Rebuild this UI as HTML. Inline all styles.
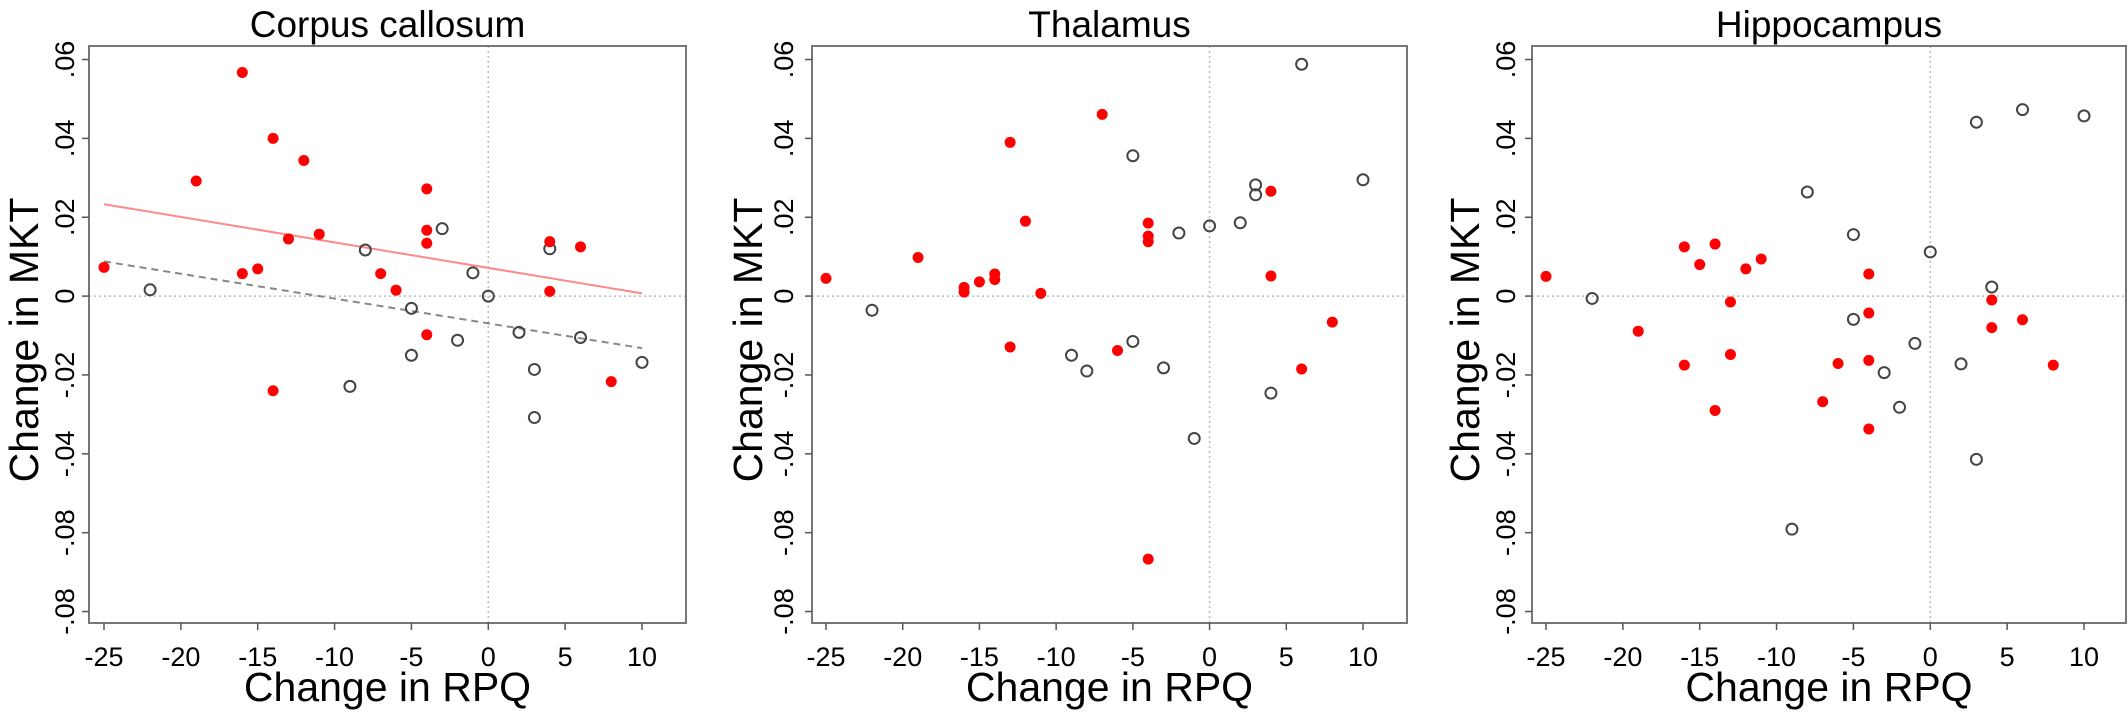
<!DOCTYPE html>
<html><head><meta charset="utf-8"><style>
html,body{margin:0;padding:0;background:#fff;}
svg{display:block;font-family:"Liberation Sans",Arial,sans-serif;}
</style></head><body>
<svg id="chart" width="2128" height="724" viewBox="0 0 2128 724"></svg>
<script>
const xTicks=[-25,-20,-15,-10,-5,0,5,10];
const yTicks=[0.06,0.04,0.02,0,-0.02,-0.04,-0.06,-0.08];
const yTickLabels=[".06",".04",".02","0","-.02","-.04","-.08","-.08"];
const titles=["Corpus callosum","Thalamus","Hippocampus"];
const ccRedX=[-25,-16,-14,-12,-19,-4,-4,-4,-13,-11,-16,-15,-7,-6,-4,-14,4,6,4,8];
const ccRedY=[.0073,.0567,.040,.0344,.0292,.0272,.0167,.0134,.0145,.0157,.0057,.0069,.0057,.0015,-.0098,-.024,.0138,.0125,.0012,-.0217];
const ccOpenX=[-22,-8,-3,-1,0,-5,-5,-2,-9,2,3,3,4,6,10];
const ccOpenY=[.0016,.0117,.0171,.0059,0,-.0031,-.015,-.0112,-.0229,-.0092,-.0186,-.0308,.012,-.0105,-.0168];
const thRedX=[-25,-19,-16,-16,-15,-14,-14,-13,-13,-12,-11,-7,-6,-4,-4,-4,-4,4,4,6,8];
const thRedY=[.0045,.0098,.0022,.001,.0036,.0056,.0042,.039,-.0129,.019,.0007,.0461,-.0138,.0185,.0152,.0138,-.0667,.0266,.0051,-.0185,-.0066];
const thOpenX=[-22,-9,-8,-5,-5,-3,-2,-1,0,2,3,3,4,6,10];
const thOpenY=[-.0036,-.015,-.019,.0356,-.0115,-.0182,.016,-.0361,.0178,.0186,.0282,.0257,-.0246,.0588,.0295];
const hiRedX=[-25,-19,-16,-16,-15,-14,-14,-13,-13,-12,-11,-7,-6,-4,-4,-4,-4,4,4,6,8];
const hiRedY=[.005,-.0089,.0125,-.0175,.008,.0132,-.029,-.0015,-.0148,.0069,.0094,-.0268,-.0171,.0056,-.0043,-.0163,-.0337,-.001,-.008,-.006,-.0175];
const hiOpenX=[-22,-8,-9,-5,-5,-3,-2,-1,0,2,3,3,4,6,10];
const hiOpenY=[-.0006,.0264,-.0591,.0156,-.0059,-.0194,-.0282,-.012,.0112,-.0172,.0441,-.0414,.0023,.0473,.0457];
const ccRedFitX=[-25,10];
const ccRedFitY=[.0233,.0007];
const ccOpenFitX=[-25,10];
const ccOpenFitY=[.0088,-.0132];

const NS="http://www.w3.org/2000/svg";
const svg=document.getElementById('chart');
function mk(tag,attrs,parent){const e=document.createElementNS(NS,tag);for(const k in attrs)e.setAttribute(k,attrs[k]);(parent||svg).appendChild(e);return e;}

const panels=[
 {bl:89,br:686,xa:104,xb:642,ytl:64,ttl:23,red:[ccRedX,ccRedY],open:[ccOpenX,ccOpenY],fits:true,name:"corpus-callosum"},
 {bl:812,br:1407,xa:826,xb:1363,ytl:783,ttl:747,red:[thRedX,thRedY],open:[thOpenX,thOpenY],fits:false,name:"thalamus"},
 {bl:1532,br:2126,xa:1546,xb:2084,ytl:1505,ttl:1464,red:[hiRedX,hiRedY],open:[hiOpenX,hiOpenY],fits:false,name:"hippocampus"}
];
const TOP=46,BOT=623;
const yS=v=>296.1-v*3943;
panels.forEach((p,i)=>{
 const xS=v=>p.xa+(v+25)*(p.xb-p.xa)/35;
 const g=mk('g',{});
 
 
 const t=mk('text',{x:(p.bl+p.br)/2,y:37,'text-anchor':'middle','font-size':37,fill:'#000'},g);
 t.textContent=titles[i];
 
 
 // reference lines
 const r1=mk('line',{x1:p.bl,x2:p.br,y1:yS(0),y2:yS(0),stroke:'#bbb','stroke-width':1.5,'stroke-dasharray':'2,3'},g);
 
 
 const r2=mk('line',{x1:xS(0),x2:xS(0),y1:TOP,y2:BOT,stroke:'#bbb','stroke-width':1.5,'stroke-dasharray':'2,3'},g);
 
 
 const box=mk('rect',{x:p.bl,y:TOP,width:p.br-p.bl,height:BOT-TOP,fill:'none',stroke:'#777','stroke-width':2},g);
 
 
 xTicks.forEach(v=>{
  mk('line',{x1:xS(v),x2:xS(v),y1:BOT,y2:BOT+7,stroke:'#555','stroke-width':1.5},g);
  const l=mk('text',{x:xS(v),y:666,'text-anchor':'middle','font-size':27,fill:'#000'},g);
  l.textContent=v;
  
  
 });
 yTicks.forEach((v,k)=>{
  mk('line',{x1:p.bl-7,x2:p.bl,y1:yS(v),y2:yS(v),stroke:'#555','stroke-width':1.5},g);
  const l=mk('text',{x:0,y:0,'text-anchor':'middle','font-size':27,fill:'#000',transform:`translate(${p.ytl+10},${yS(v)}) rotate(-90)`},g);
  l.textContent=yTickLabels[k];
  
  
 });
 const xt=mk('text',{x:(p.bl+p.br)/2,y:701,'text-anchor':'middle','font-size':41,fill:'#000'},g);
 xt.textContent='Change in RPQ';
 
 
 const yt=mk('text',{x:0,y:0,'text-anchor':'middle','font-size':41,fill:'#000',transform:`translate(${p.ttl+15},340) rotate(-90)`},g);
 yt.textContent='Change in MKT';
 
 
 if(p.fits){
  const f1=mk('line',{x1:xS(ccRedFitX[0]),x2:xS(ccRedFitX[1]),y1:yS(ccRedFitY[0]),y2:yS(ccRedFitY[1]),stroke:'#f88','stroke-width':2},g);
  
  
  const f2=mk('line',{x1:xS(ccOpenFitX[0]),x2:xS(ccOpenFitX[1]),y1:yS(ccOpenFitY[0]),y2:yS(ccOpenFitY[1]),stroke:'#888','stroke-width':2,'stroke-dasharray':'7,5'},g);
  
  
 }
 p.open[0].forEach((x,k)=>{
  const c=mk('circle',{cx:xS(x),cy:yS(p.open[1][k]),r:5.5,fill:'none',stroke:'#444','stroke-width':2},g);
  
  
 });
 p.red[0].forEach((x,k)=>{
  const c=mk('circle',{cx:xS(x),cy:yS(p.red[1][k]),r:5.5,fill:'#f00'},g);
  
  
 });
});
</script>
</body></html>
